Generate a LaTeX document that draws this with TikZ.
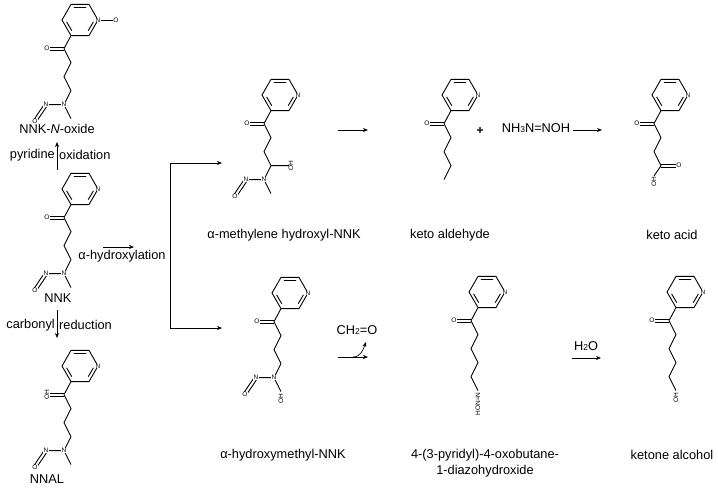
\documentclass[tikz,border=0pt]{standalone}
\usepackage{fontspec}
\setmainfont{Liberation Sans}
\usetikzlibrary{calc,arrows.meta}
\tikzset{
  bond/.style={line width=0.9pt},
  atom/.style={font=\fontsize{6.5}{6.5}\selectfont, inner sep=0.2pt, fill=white},
  lab/.style={font=\fontsize{12.8}{15}\selectfont, inner sep=1pt},
  rx/.style={line width=0.7pt, -{Stealth[length=5pt,width=4pt]}},
}
\newcommand\dbond[2]{\draw[bond] ($(#1)!1.6pt!90:(#2)$) -- ($(#2)!1.6pt!-90:(#1)$);
  \draw[bond] ($(#1)!1.6pt!-90:(#2)$) -- ($(#2)!1.6pt!90:(#1)$);}
\newcommand\mol{%
  \draw[bond] (18,0)--(9,-15.6)--(-9,-15.6)--(-18,0)--(-9,15.6)--(9,15.6)--cycle;
  \draw[bond] (6.2,-12.5)--(-6.2,-12.5) (-13.4,1.9)--(-8.2,10.7) (8.2,10.7)--(13.4,1.9);
  \node[atom] (N) at (18,0) {N};
  \coordinate (A) at (-9,15.6);
  \coordinate (C1) at (-16,28.6); \coordinate (O) at (-33,28.6);
  \coordinate (C2) at (-9,42.6); \coordinate (C3) at (-16,56.6);
  \coordinate (C4) at (-9,70.6); \coordinate (C5) at (-16,84.6);
  \coordinate (C6) at (-9,98.6); \coordinate (C7) at (-16,112.6);
  \draw[bond] (A)--(C1);
}
\newcommand\nitroso{%
  \coordinate (Nn) at (-34,84.6); \coordinate (On) at (-45,101);
  \draw[bond] (C4)--(C5)--(C6) (C5)--(Nn);
  \dbond{Nn}{On}
  \node[atom] at (C5) {N}; \node[atom] at (Nn) {N}; \node[atom] at (On) {O};
}
\begin{document}
\begin{tikzpicture}[x=1pt,y=-1pt]
\useasboundingbox (0,0) rectangle (718,491);
% NNK-N-oxide
\begin{scope}[shift={(80,20)}]
 \mol \dbond{C1}{O} \node[atom] at (O) {O};
 \draw[bond] (C1)--(C2)--(C3)--(C4);
 \nitroso
 \draw[bond] (N)--(36,0); \node[atom] at (36,0) {O};
\end{scope}
\node[lab] (noxide) at (57,129) {NNK-\textit{N}-oxide};
% NNK
\begin{scope}[shift={(80,189)}]
 \mol \dbond{C1}{O} \node[atom] at (O) {O};
 \draw[bond] (C1)--(C2)--(C3)--(C4);
 \nitroso
\end{scope}
\node[lab] (nnk) at (58,298) {NNK};
% NNAL
\begin{scope}[shift={(80,366)}]
 \mol \dbond{C1}{O} \node[atom,rotate=90] at (O) {OH};
 \draw[bond] (C1)--(C2)--(C3)--(C4);
 \nitroso
\end{scope}
\node[lab] (nnal) at (47,479) {NNAL};
% pyridine oxidation
\coordinate (po1) at (57,170); \coordinate (po2) at (57,142);
\draw[rx] (po1)--(po2);
\node[lab,anchor=east] (pyr) at (56,155) {pyridine};
\node[lab,anchor=west] (oxi) at (58,155) {oxidation};
% carbonyl reduction
\coordinate (cr1) at (57,310); \coordinate (cr2) at (57,338);
\draw[rx] (cr1)--(cr2);
\node[lab,anchor=east] (carb) at (56,325) {carbonyl};
\node[lab,anchor=west] (red) at (58,325) {reduction};
% alpha-hydroxylation
\coordinate (ah1) at (103,247); \coordinate (ah2) at (134,247);
\draw[rx] (ah1)--(ah2);
\node[lab] (ahx) at (122,256) {α-hydroxylation};
\coordinate (b1) at (170,163); \coordinate (b2) at (170,328);
\coordinate (b3) at (222,163); \coordinate (b4) at (222,328);
\draw[line width=0.6pt] (b1)--(b2);
\draw[rx] (b1)--(b3); \draw[rx] (b2)--(b4);
% alpha-methylene hydroxyl-NNK
\begin{scope}[shift={(280,95)}]
 \mol \dbond{C1}{O} \node[atom] at (O) {O};
 \draw[bond] (C1)--(C2)--(C3)--(C4) (C4)--(9,70.6);
 \node[atom,rotate=90] at (11,70.6) {OH};
 \nitroso
\end{scope}
\node[lab] (amh) at (284,235) {α-methylene hydroxyl-NNK};
\coordinate (r1) at (338,130); \coordinate (r2) at (368,130);
\draw[rx] (r1)--(r2);
% keto aldehyde
\begin{scope}[shift={(460,95)}]
 \mol \dbond{C1}{O} \node[atom] at (O) {O};
 \draw[bond] (C1)--(C2)--(C3)--(C4)--(C5);
\end{scope}
\node[lab] (ka) at (450,235) {keto aldehyde};
\node[font=\bfseries\fontsize{12}{12}\selectfont] (plus) at (480,131) {+};
\node[lab] (nh3) at (536,128) {NH{\fontsize{8.5}{8.5}\selectfont 3}N=NOH};
\coordinate (r3) at (573,130); \coordinate (r4) at (602,130);
\draw[rx] (r3)--(r4);
% keto acid
\begin{scope}[shift={(670,95)}]
 \mol \dbond{C1}{O} \node[atom] at (O) {O};
 \draw[bond] (C1)--(C2)--(C3)--(C4) (C4)--(-16,81);
 \dbond{C4}{9,70.6} \node[atom] at (9,70.6) {O};
 \node[atom,rotate=90,anchor=east] at (-16,81) {OH};
\end{scope}
\node[lab] (kac) at (672,235) {keto acid};
% alpha-hydroxymethyl-NNK
\begin{scope}[shift={(290,293)}]
 \mol \dbond{C1}{O} \node[atom] at (O) {O};
 \draw[bond] (C1)--(C2)--(C3)--(C4);
 \nitroso
 \node[atom,rotate=90,anchor=east] at (-9,100) {OH};
\end{scope}
\node[lab] (ahm) at (283,455) {α-hydroxymethyl-NNK};
\coordinate (r5) at (338,357); \coordinate (r6) at (368,357);
\coordinate (r7) at (353,357); \coordinate (r8) at (366,342);
\draw[rx] (r5)--(r6);
\draw[rx] (r7) to[out=0,in=-110] (r8);
\node[lab] (ch2o) at (357,330) {CH{\fontsize{8.5}{8.5}\selectfont 2}=O};
% diazohydroxide
\begin{scope}[shift={(487,292)}]
 \mol \dbond{C1}{O} \node[atom] at (O) {O};
 \draw[bond] (C1)--(C2)--(C3)--(C4)--(C5)--(C6);
 \node[atom,rotate=90,anchor=east] at (-9,100) {HON=N};
\end{scope}
\node[lab] (dz1) at (485,455) {4-(3-pyridyl)-4-oxobutane-};
\node[lab] (dz2) at (485,471) {1-diazohydroxide};
\coordinate (r9) at (572,358); \coordinate (r10) at (601,358);
\draw[rx] (r9)--(r10);
\node[lab] (h2o) at (586,346) {H{\fontsize{8.5}{8.5}\selectfont 2}O};
% ketone alcohol
\begin{scope}[shift={(685,292)}]
 \mol \dbond{C1}{O} \node[atom] at (O) {O};
 \draw[bond] (C1)--(C2)--(C3)--(C4)--(C5)--(C6);
 \node[atom,rotate=90,anchor=east] at (-9,100) {OH};
\end{scope}
\node[lab] (kal) at (672,455) {ketone alcohol};
\end{tikzpicture}
\end{document}
